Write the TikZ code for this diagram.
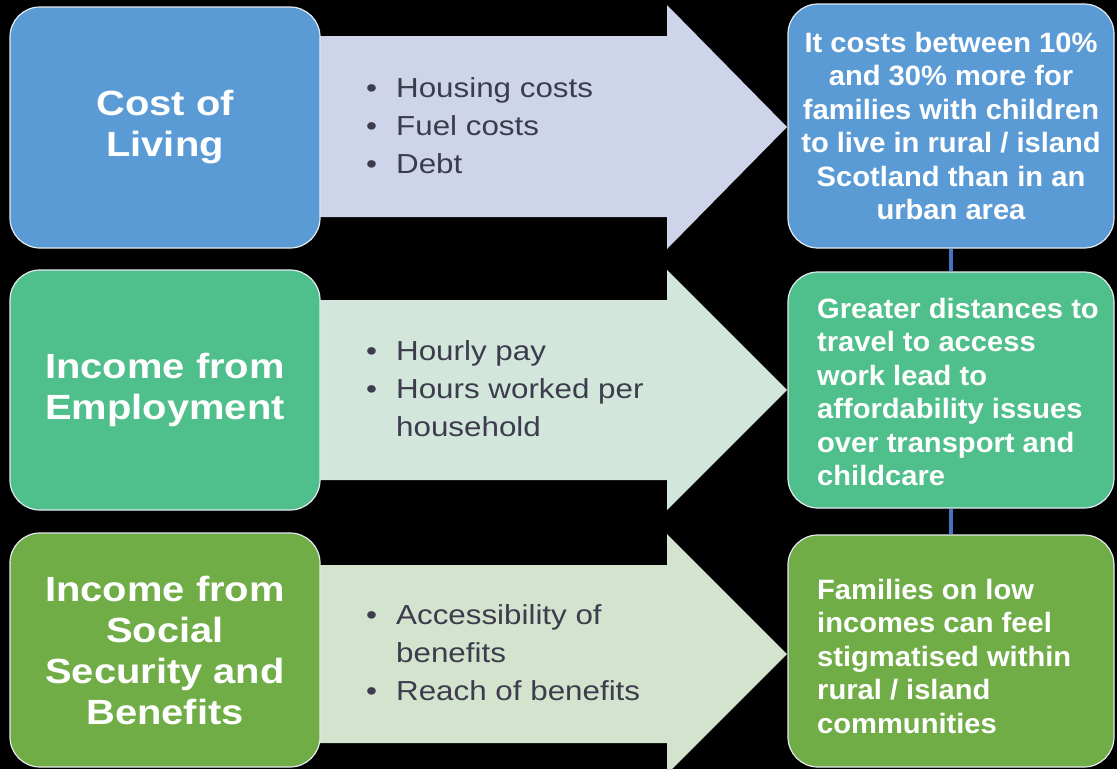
\documentclass[tikz,border=0pt]{standalone}
\usepackage{fontspec}
\setmainfont{Liberation Sans}[FakeStretch=1.14]
\newfontfamily\rightfont{Liberation Sans}[FakeStretch=1.04]
\definecolor{cblue}{HTML}{5B9BD5}
\definecolor{cgreen}{HTML}{4FC08B}
\definecolor{colive}{HTML}{70AD47}
\definecolor{abl}{HTML}{CED5EA}
\definecolor{agr}{HTML}{D2E6DC}
\definecolor{aol}{HTML}{D4E3CE}
\definecolor{btxt}{HTML}{3C3C4C}
\definecolor{linkc}{HTML}{4472C4}
\definecolor{edgec}{HTML}{E4EAF0}
\begin{document}
\begin{tikzpicture}[x=1pt,y=-1pt,
  box/.style={draw=edgec, line width=1.2pt, rounded corners=30pt, inner sep=0pt, text=white},
  leftbox/.style={box, minimum width=310pt, align=center, font=\fontsize{35}{41}\selectfont\bfseries},
  rightbox/.style={box, minimum width=326pt, font=\fontsize{28}{33.5}\selectfont\rightfont\bfseries},
  righttext/.style={anchor=west, inner sep=0pt, text=white, align=left, font=\fontsize{28}{33.5}\selectfont\rightfont\bfseries},
  bullets/.style={anchor=west, inner sep=0pt, text=btxt, font=\fontsize{27.5}{38}\selectfont},
  linkline/.style={draw=linkc, line width=4pt}]
\fill[black] (0,0) rectangle (1117,769);
\useasboundingbox (0,0) rectangle (1117,769);
% arrows
\fill[abl] (300,36) -- (667,36) -- (667,5) -- (787,127) -- (667,249) -- (667,217) -- (300,217) -- cycle;
\fill[agr] (300,300) -- (667,300) -- (667,270) -- (787,390) -- (667,510) -- (667,480) -- (300,480) -- cycle;
\fill[aol] (300,565) -- (667,565) -- (667,534) -- (787,654) -- (667,774) -- (667,743) -- (300,743) -- cycle;
% left boxes
\node[leftbox, fill=cblue, minimum height=241pt] (l1) at (165,127.5) {Cost of\\Living};
\node[leftbox, fill=cgreen, minimum height=240pt] (l2) at (165,390) {Income from\\Employment};
\node[leftbox, fill=colive, minimum height=234pt] (l3) at (165,650) {Income from\\Social\\Security and\\Benefits};
% right boxes
\node[rightbox, fill=cblue, minimum height=244pt, align=center] (r1) at (951,126) {It costs between 10\%\\and 30\% more for\\families with children\\to live in rural / island\\Scotland than in an\\urban area};
\node[rightbox, fill=cgreen, minimum height=236pt] (r2) at (951,390) {};
\node[rightbox, fill=colive, minimum height=232pt] (r3) at (951,651) {};
\node[righttext] (t2) at (817,392) {Greater distances to\\travel to access\\work lead to\\affordability issues\\over transport and\\childcare};
\node[righttext] (t3) at (817,656) {Families on low\\incomes can feel\\stigmatised within\\rural / island\\communities};
% connectors
\draw[linkline] (r1.south) -- (r2.north);
\draw[linkline] (r2.south) -- (r3.north);
% bullet lists
\node[bullets] (b1) at (366,128) {\begin{tabular}{@{}l@{\hspace{19pt}}l@{}}\textbullet & Housing costs\\ \textbullet & Fuel costs\\ \textbullet & Debt\end{tabular}};
\node[bullets] (b2) at (366,391) {\begin{tabular}{@{}l@{\hspace{19pt}}l@{}}\textbullet & Hourly pay\\ \textbullet & Hours worked per\\ & household\end{tabular}};
\node[bullets] (b3) at (366,655) {\begin{tabular}{@{}l@{\hspace{19pt}}l@{}}\textbullet & Accessibility of\\ & benefits\\ \textbullet & Reach of benefits\end{tabular}};
\end{tikzpicture}
\end{document}
